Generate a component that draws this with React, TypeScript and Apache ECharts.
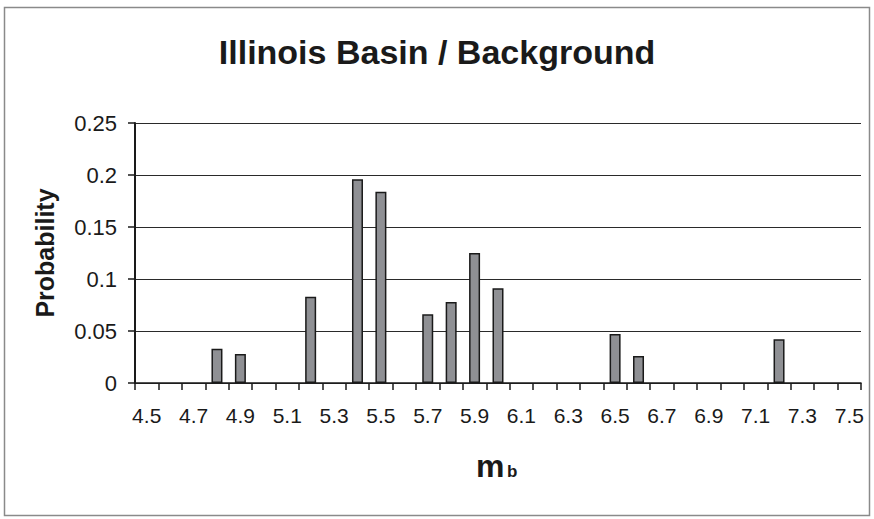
import React, { useEffect, useRef } from "react";
import * as echarts from "echarts";

// Magnitude bins (mb), 0.1 apart
const magnitudes = [
  "4.5", "4.6", "4.7", "4.8", "4.9", "5.0", "5.1", "5.2", "5.3", "5.4", "5.5",
  "5.6", "5.7", "5.8", "5.9", "6.0", "6.1", "6.2", "6.3", "6.4", "6.5", "6.6",
  "6.7", "6.8", "6.9", "7.0", "7.1", "7.2", "7.3", "7.4", "7.5",
];

// Probability per bin
const probability = [
  0, 0, 0, 0.033, 0.028, 0, 0, 0.083, 0, 0.196, 0.184,
  0, 0.066, 0.078, 0.125, 0.091, 0, 0, 0, 0, 0.047, 0.026,
  0, 0, 0, 0, 0, 0.042, 0, 0, 0,
];

const FONT = "'Liberation Sans', Arial, Helvetica, sans-serif";
const INK = "#1a1a1a";

export default function App() {
  const ref = useRef<HTMLDivElement>(null);

  useEffect(() => {
    if (!ref.current) return;
    const chart = echarts.init(ref.current, null, { renderer: "svg" });
    // empty bins are left undrawn so no zero-height outline sits on the axis
    const barData = probability.map((p) => (p === 0 ? "-" : p));
    chart.setOption({
      animation: false,
      backgroundColor: "#ffffff",
      textStyle: { fontFamily: FONT },
      title: {
        text: "Illinois Basin / Background",
        left: "center",
        top: 30,
        textStyle: { fontFamily: FONT, fontSize: 34, fontWeight: "bold", color: INK },
      },
      grid: { left: 135, right: 13, top: 123, bottom: 136 },
      xAxis: {
        type: "category",
        data: magnitudes,
        axisLine: { show: true, lineStyle: { color: INK, width: 1.5 } },
        axisTick: { show: true, interval: 0, length: 7, lineStyle: { color: INK, width: 1.5 } },
        axisLabel: { interval: 1, margin: 22, fontSize: 21, color: INK, fontFamily: FONT },
        splitLine: { show: false },
      },
      yAxis: {
        type: "value",
        min: 0,
        max: 0.25,
        interval: 0.05,
        name: "Probability",
        nameLocation: "middle",
        nameGap: 78,
        nameTextStyle: { fontFamily: FONT, fontSize: 25, fontWeight: "bold", color: INK },
        axisLine: { show: true, lineStyle: { color: INK, width: 2 } },
        axisTick: { show: true, length: 7, lineStyle: { color: INK, width: 1.5 } },
        axisLabel: { margin: 18, fontSize: 22, color: INK, fontFamily: FONT },
        splitLine: { show: true, lineStyle: { color: "#2a2a2a", width: 1 } },
      },
      series: [
        {
          type: "bar",
          data: barData,
          barWidth: 11,
          itemStyle: { color: "#8f9094", borderColor: INK, borderWidth: 1.5 },
        },
      ],
      graphic: [
        {
          type: "rect",
          shape: { x: 4.5, y: 7.5, width: 865, height: 508 },
          style: { fill: "none", stroke: "#8a8a8a", lineWidth: 1.5 },
          silent: true,
        },
        {
          type: "text",
          x: 476,
          y: 482,
          style: { text: "m", font: `bold 32px ${FONT}`, fill: INK, textAlign: "left", textVerticalAlign: "bottom" },
        },
        {
          type: "text",
          x: 507,
          y: 480,
          style: { text: "b", font: `bold 17px ${FONT}`, fill: INK, textAlign: "left", textVerticalAlign: "bottom" },
        },
      ],
    });
    return () => chart.dispose();
  }, []);

  return <div ref={ref} style={{ position: "fixed", left: 0, top: 0, width: 874, height: 519 }} />;
}
